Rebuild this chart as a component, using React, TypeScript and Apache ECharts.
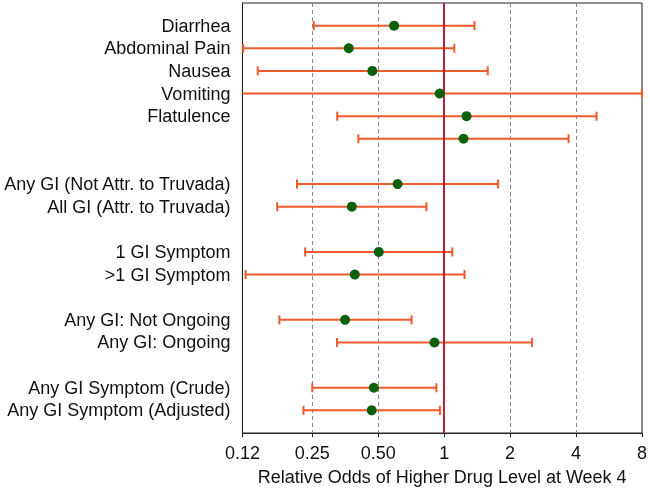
import React, { useEffect, useRef } from "react";
import * as echarts from "echarts";

const rowLabels = [
  "Diarrhea",
  "Abdominal Pain",
  "Nausea",
  "Vomiting",
  "Flatulence",
  "",
  "",
  "Any GI (Not Attr. to Truvada)",
  "All GI (Attr. to Truvada)",
  "",
  "1 GI Symptom",
  ">1 GI Symptom",
  "",
  "Any GI: Not Ongoing",
  "Any GI: Ongoing",
  "",
  "Any GI Symptom (Crude)",
  "Any GI Symptom (Adjusted)",
];
const rowPositions = [1, 2, 3, 4, 5, 6, 8, 9, 11, 12, 14, 15, 17, 18];
const estimates = [0.591, 0.367, 0.47, 0.954, 1.265, 1.226, 0.613, 0.379, 0.503, 0.391, 0.353, 0.903, 0.478, 0.467];
const lowers = [0.254, 0.121, 0.141, 0.1, 0.325, 0.406, 0.213, 0.173, 0.232, 0.124, 0.177, 0.324, 0.25, 0.228];
const uppers = [1.376, 1.113, 1.581, 8.0, 4.96, 3.7, 1.763, 0.83, 1.09, 1.239, 0.71, 2.52, 0.922, 0.957];
const xTickValues = [0.12, 0.25, 0.5, 1, 2, 4, 8];
const xTickLabels = ["0.12", "0.25", "0.50", "1", "2", "4", "8"];
const gridLineValues = [0.25, 0.5, 2, 4, 8];
const xTitle = "Relative Odds of Higher Drug Level at Week 4";

const FONT = "Liberation Sans, Arial, Helvetica, sans-serif";

export default function App() {
  const ref = useRef<HTMLDivElement>(null);
  useEffect(() => {
    if (!ref.current) return;
    const chart = echarts.init(ref.current, null, { renderer: "svg" });
    const errData = rowPositions.map((y, i) => [lowers[i], uppers[i], y]);
    const ptData = rowPositions.map((y, i) => [estimates[i], y]);
    const labelFor = (v: number) => {
      let best = 0;
      for (let i = 1; i < xTickValues.length; i++) {
        if (Math.abs(Math.log(xTickValues[i] / v)) < Math.abs(Math.log(xTickValues[best] / v))) best = i;
      }
      return xTickLabels[best];
    };
    chart.setOption({
      animation: false,
      textStyle: { fontFamily: FONT },
      grid: {
        left: 242,
        right: 7,
        top: 3,
        bottom: 58,
        show: true,
        borderColor: "#222",
        borderWidth: 1,
        backgroundColor: "transparent",
      },
      xAxis: {
        type: "log",
        logBase: 2,
        min: 0.12,
        max: 8,
        name: xTitle,
        nameLocation: "middle",
        nameGap: 35,
        nameTextStyle: { fontSize: 18, color: "#111", fontFamily: FONT },
        axisLine: { show: true, onZero: false, lineStyle: { color: "#222", width: 1 } },
        axisTick: {
          show: true,
          inside: false,
          length: 4,
          customValues: xTickValues,
          lineStyle: { color: "#222" },
        },
        axisLabel: {
          fontSize: 18,
          color: "#111",
          margin: 11,
          fontFamily: FONT,
          customValues: xTickValues,
          showMinLabel: true,
          showMaxLabel: true,
          formatter: (v: number) => labelFor(v),
        },
        splitLine: { show: false },
      },
      yAxis: {
        type: "value",
        min: 0,
        max: 19,
        interval: 1,
        inverse: true,
        axisLine: { show: true, lineStyle: { color: "#222", width: 1 } },
        axisTick: { show: false },
        splitLine: { show: false },
        axisLabel: {
          fontSize: 18,
          color: "#111",
          margin: 12,
          fontFamily: FONT,
          formatter: (v: number) => {
            const i = Math.round(v) - 1;
            return i >= 0 && i < rowLabels.length ? rowLabels[i] : "";
          },
        },
      },
      series: [
        {
          type: "custom",
          data: errData,
          z: 3,
          renderItem: (params: any, api: any) => {
            const lo = api.value(0);
            const hi = api.value(1);
            const y = api.value(2);
            const p1 = api.coord([lo, y]);
            const p2 = api.coord([hi, y]);
            const cs = params.coordSys;
            const xmin = cs.x;
            const xmax = cs.x + cs.width;
            const x1 = Math.max(p1[0], xmin);
            const x2 = Math.min(p2[0], xmax);
            const cy = p1[1];
            const style = { stroke: "#f05a2c", lineWidth: 2 };
            const children: any[] = [
              { type: "line", shape: { x1, y1: cy, x2, y2: cy }, style },
            ];
            const h = 4.5;
            if (p1[0] >= xmin - 0.5) {
              children.push({ type: "line", shape: { x1: p1[0], y1: cy - h, x2: p1[0], y2: cy + h }, style });
            }
            if (p2[0] <= xmax + 0.5) {
              children.push({ type: "line", shape: { x1: p2[0], y1: cy - h, x2: p2[0], y2: cy + h }, style });
            }
            return { type: "group", children };
          },
          markLine: {
            silent: true,
            symbol: "none",
            label: { show: false },
            z: 1,
            lineStyle: { color: "#888", width: 1, type: [4, 3] },
            data: gridLineValues.map((v) => ({ xAxis: v })),
          },
        },
        {
          type: "scatter",
          data: ptData,
          symbol: "circle",
          symbolSize: 10,
          z: 5,
          itemStyle: { color: "#0b610b", opacity: 1 },
          markLine: {
            silent: true,
            symbol: "none",
            label: { show: false },
            lineStyle: { color: "#b5233c", width: 2, type: "solid" },
            data: [{ xAxis: 1 }],
          },
        },
      ],
    });
    return () => chart.dispose();
  }, []);
  return <div ref={ref} style={{ position: "fixed", left: 0, top: 0, width: 650, height: 491 }} />;
}
